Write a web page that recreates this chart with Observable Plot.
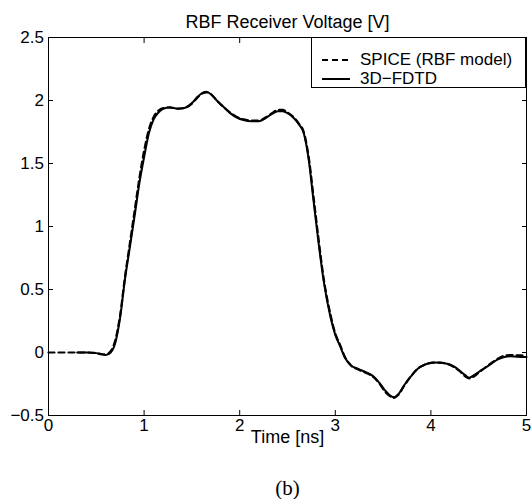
<!DOCTYPE html>
<html>
<head>
<meta charset="utf-8">
<script src="https://cdn.jsdelivr.net/npm/d3@7"></script>
<script src="https://cdn.jsdelivr.net/npm/@observablehq/plot@0.6"></script>
<style>
  body { margin: 0; background: #fff; }
  #wrap { position: relative; width: 531px; height: 499px; font-family: "Liberation Sans", Arial, sans-serif; }
  #legend { position: absolute; left: 311px; top: 37px; width: 215px; height: 51px; border: 1px solid #000; background: #fff; box-sizing: border-box; }
  .row { position: absolute; left: 0; height: 18px; width: 100%; }
  .row svg { position: absolute; left: 9px; top: 0; }
  .row span { display: block; position: absolute; left: 48px; top: 0; height: 18px; font-size: 17px; line-height: 18px; color: #000; white-space: nowrap; }
</style>
</head>
<body>
<div id="wrap"></div>
<script>
// ---- data ----
const titleText = "RBF Receiver Voltage [V]";
const xLabel = "Time [ns]";
const caption = "(b)";
const xTicks = [0, 1, 2, 3, 4, 5];
const yTicks = [-0.5, 0, 0.5, 1, 1.5, 2, 2.5];
const seriesNames = ["SPICE (RBF model)", "3D\u2212FDTD"];

// SPICE (RBF model) – dashed
const spiceT = [0, 0.2, 0.4, 0.5, 0.55, 0.6, 0.65, 0.7, 0.75, 0.8, 0.85, 0.9, 0.95, 1.0, 1.05, 1.1, 1.15, 1.2, 1.27, 1.35, 1.42, 1.5, 1.56, 1.62, 1.65, 1.7, 1.76, 1.83, 1.9, 1.97, 2.04, 2.12, 2.2, 2.27, 2.33, 2.4, 2.45, 2.5, 2.56, 2.62, 2.67, 2.72, 2.77, 2.82, 2.88, 2.95, 3.0, 3.05, 3.1, 3.16, 3.24, 3.33, 3.4, 3.46, 3.52, 3.57, 3.61, 3.66, 3.72, 3.79, 3.86, 3.94, 4.03, 4.1, 4.17, 4.24, 4.31, 4.36, 4.4, 4.45, 4.5, 4.56, 4.63, 4.7, 4.77, 4.83, 4.9, 5.0];
const spiceV = [0, 0, 0, -0.005, -0.012, -0.015, 0.01, 0.10, 0.30, 0.60, 0.86, 1.12, 1.38, 1.60, 1.77, 1.87, 1.92, 1.94, 1.945, 1.935, 1.94, 1.975, 2.025, 2.06, 2.065, 2.05, 2.0, 1.95, 1.905, 1.87, 1.85, 1.84, 1.84, 1.865, 1.895, 1.925, 1.925, 1.905, 1.87, 1.815, 1.75, 1.56, 1.25, 0.93, 0.58, 0.30, 0.15, 0.06, -0.035, -0.10, -0.135, -0.165, -0.195, -0.245, -0.31, -0.345, -0.36, -0.335, -0.265, -0.19, -0.13, -0.095, -0.08, -0.08, -0.09, -0.115, -0.155, -0.19, -0.205, -0.19, -0.16, -0.125, -0.085, -0.05, -0.025, -0.02, -0.022, -0.025];

// 3D-FDTD – solid
const fdtdT = [0.3, 0.4, 0.5, 0.55, 0.6, 0.65, 0.7, 0.75, 0.8, 0.85, 0.9, 0.95, 1.0, 1.05, 1.1, 1.15, 1.2, 1.27, 1.35, 1.42, 1.5, 1.56, 1.62, 1.65, 1.7, 1.76, 1.83, 1.9, 1.97, 2.04, 2.12, 2.2, 2.27, 2.33, 2.4, 2.45, 2.5, 2.56, 2.62, 2.67, 2.72, 2.77, 2.82, 2.88, 2.95, 3.0, 3.05, 3.1, 3.16, 3.24, 3.33, 3.4, 3.46, 3.52, 3.57, 3.61, 3.66, 3.72, 3.79, 3.86, 3.94, 4.03, 4.1, 4.17, 4.24, 4.31, 4.36, 4.4, 4.45, 4.5, 4.56, 4.63, 4.7, 4.77, 4.83, 4.9, 5.0];
const fdtdV = [0, 0, -0.005, -0.015, -0.02, 0.0, 0.08, 0.28, 0.58, 0.83, 1.08, 1.34, 1.55, 1.74, 1.85, 1.905, 1.935, 1.945, 1.935, 1.94, 1.98, 2.03, 2.065, 2.07, 2.05, 2.0, 1.95, 1.90, 1.865, 1.845, 1.835, 1.835, 1.86, 1.89, 1.915, 1.915, 1.90, 1.865, 1.81, 1.74, 1.54, 1.22, 0.90, 0.56, 0.28, 0.14, 0.05, -0.04, -0.10, -0.13, -0.16, -0.19, -0.24, -0.30, -0.34, -0.355, -0.33, -0.26, -0.19, -0.13, -0.095, -0.08, -0.082, -0.09, -0.11, -0.15, -0.18, -0.20, -0.18, -0.155, -0.125, -0.09, -0.055, -0.035, -0.03, -0.033, -0.035];

const spice = spiceT.map((t, i) => ({t, v: spiceV[i]}));
const fdtd = fdtdT.map((t, i) => ({t, v: fdtdV[i]}));

const fmt = d => (d < 0 ? "\u2212" + Math.abs(d) : String(d));
const font = "'Liberation Sans', Arial, sans-serif";
const fs = 17;
const fsText = 18;

const chart = Plot.plot({
  width: 531,
  height: 499,
  marginTop: 37,
  marginLeft: 48,
  marginRight: 5,
  marginBottom: 84,
  style: {fontFamily: font, fontSize: fs + "px", color: "#000", background: "#fff", overflow: "visible"},
  x: {domain: [0, 5]},
  y: {domain: [-0.5, 2.5]},
  marks: [
    Plot.line(spice, {x: "t", y: "v", stroke: "#000", strokeWidth: 2.2, strokeDasharray: "6,4", curve: "monotone-x"}),
    Plot.line(fdtd, {x: "t", y: "v", stroke: "#000", strokeWidth: 2, curve: "monotone-x"}),
    Plot.frame({stroke: "#000", strokeWidth: 1}),
    Plot.axisX({anchor: "bottom", ticks: xTicks, tickSize: -5, tickPadding: 8, tickFormat: fmt, label: null, fontSize: fs}),
    Plot.axisX({anchor: "top", ticks: xTicks, tickSize: -5, tickFormat: () => "", label: null}),
    Plot.axisY({anchor: "left", ticks: yTicks, tickSize: -5, tickPadding: 9.5, tickFormat: fmt, label: null, fontSize: fs}),
    Plot.axisY({anchor: "right", ticks: yTicks, tickSize: -5, tickFormat: () => "", label: null}),
    Plot.text([titleText], {frameAnchor: "top", dy: -15, lineAnchor: "middle", fontSize: fsText, fill: "#000"}),
    Plot.text([xLabel], {frameAnchor: "bottom", dy: 22, lineAnchor: "middle", fontSize: fsText, fill: "#000"}),
    Plot.text([caption], {frameAnchor: "bottom", dy: 73, lineAnchor: "middle", fontSize: 21, fontFamily: "'Liberation Serif', 'Times New Roman', serif", fill: "#000"})
  ]
});

const wrap = document.getElementById("wrap");
wrap.appendChild(chart);

// legend
const legend = document.createElement("div");
legend.id = "legend";
const styles = [{dash: "6,4", w: 2.2}, {dash: null, w: 2}];
const rowTops = [13, 32];
seriesNames.forEach((name, i) => {
  const row = document.createElement("div");
  row.className = "row";
  row.style.top = rowTops[i] + "px";
  row.innerHTML = `<svg width="30" height="18"><line x1="1" y1="9" x2="29" y2="9" stroke="#000" stroke-width="${styles[i].w}" ${styles[i].dash ? `stroke-dasharray="${styles[i].dash}"` : ""}/></svg><span>${name}</span>`;
  legend.appendChild(row);
});
wrap.appendChild(legend);
</script>
</body>
</html>
